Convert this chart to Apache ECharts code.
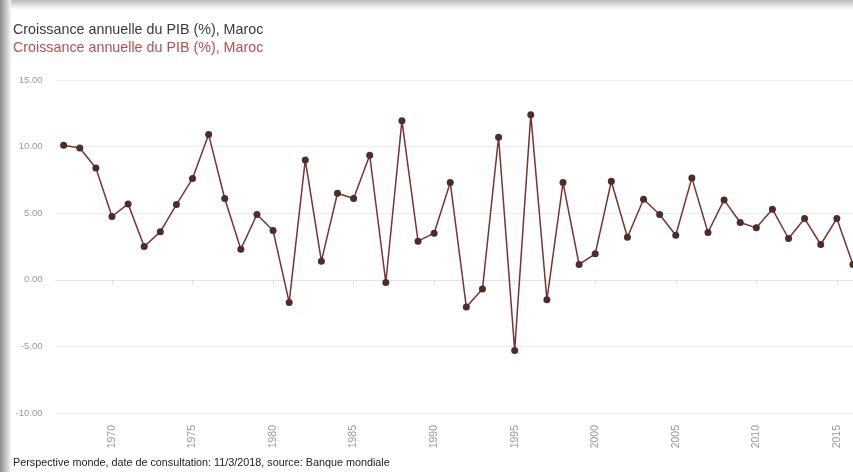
<!DOCTYPE html>
<html>
<head>
<meta charset="utf-8">
<script src="https://cdn.jsdelivr.net/npm/echarts@6/dist/echarts.min.js"></script>
<style>
html,body{margin:0;padding:0;background:#fff;}
#wrap{position:relative;width:853px;height:472px;overflow:hidden;}
#chart{position:absolute;left:0;top:0;width:870px;height:472px;}
#shTop{position:absolute;left:0;top:0;width:853px;height:10px;background:linear-gradient(#b8b8b8,#e8e8e8 60%,rgba(255,255,255,0));z-index:2;}
#shLeft{position:absolute;left:0;top:0;width:12px;height:472px;background:linear-gradient(90deg,#8a8a8a,#c4c4c4 50%,#f0f0f0 85%,rgba(255,255,255,0));z-index:3;}
</style>
</head>
<body>
<div id="wrap">
<div id="chart"></div>
<div id="shTop"></div>
<div id="shLeft"></div>
</div>
<script>
const years = [];
for (let y = 1967; y <= 2016; y++) years.push(String(y));
const growth = [10.1, 9.9, 8.4, 4.75, 5.7, 2.5, 3.6, 5.65, 7.6, 10.9,
  6.1, 2.3, 4.9, 3.7, -1.7, 9.0, 1.4, 6.5, 6.1, 9.35,
  -0.2, 11.95, 2.9, 3.5, 7.3, -2.05, -0.7, 10.7, -5.3, 12.4,
  -1.5, 7.3, 1.15, 1.95, 7.4, 3.2, 6.05, 4.9, 3.35, 7.65,
  3.55, 6.0, 4.3, 3.9, 5.3, 3.1, 4.6, 2.65, 4.6, 1.15];
const yTicks = { min: -10, max: 15, interval: 5 };
const titleText = 'Croissance annuelle du PIB (%), Maroc';
const seriesName = 'Croissance annuelle du PIB (%), Maroc';
const footer = 'Perspective monde, date de consultation: 11/3/2018, source: Banque mondiale';

const chart = echarts.init(document.getElementById('chart'));
chart.setOption({
  backgroundColor: '#fff',
  animation: false,
  title: [
    { text: titleText, left: 8, top: 18, textStyle: { fontFamily: 'Liberation Sans, Arial', fontSize: 14.3, fontWeight: 'normal', color: '#3a3a3a' } },
    { text: footer, left: 8, top: 453, textStyle: { fontFamily: 'Liberation Sans, Arial', fontSize: 10.8, fontWeight: 'normal', color: '#222' } }
  ],
  legend: {
    left: 13, top: 41, itemWidth: 0, itemHeight: 0, icon: 'none', padding: 0, itemGap: 0,
    textStyle: { fontFamily: 'Liberation Sans, Arial', fontSize: 14.3, color: '#b5504f', padding: [0,0,0,-5] },
    data: [seriesName]
  },
  grid: { left: 55.6, right: 9, top: 80, bottom: 59 },
  xAxis: {
    type: 'category', data: years, boundaryGap: true,
    axisLine: { lineStyle: { color: '#e4e4e4' } },
    axisTick: { show: true, alignWithLabel: true, length: 5, lineStyle: { color: '#ddd' }, interval: (i, v) => Number(v) % 5 === 0 },
    axisLabel: { rotate: 90, fontSize: 10.5, color: '#9a9a9a', margin: 12, interval: (i, v) => Number(v) % 5 === 0, fontFamily: 'Liberation Sans, Arial' },
    splitLine: { show: false }
  },
  yAxis: {
    type: 'value', min: yTicks.min, max: yTicks.max, interval: yTicks.interval,
    axisLine: { show: false }, axisTick: { show: false },
    axisLabel: { fontSize: 9.5, color: '#9a9a9a', margin: 13, formatter: v => v.toFixed(2), fontFamily: 'Liberation Sans, Arial' },
    splitLine: { lineStyle: { color: '#ececec' } }
  },
  series: [{
    name: seriesName, type: 'line', data: growth,
    symbol: 'circle', symbolSize: 7, showSymbol: true,
    lineStyle: { color: '#7a3232', width: 1.5 },
    itemStyle: { color: '#4e2c2c' }
  }]
});
</script>
</body>
</html>
